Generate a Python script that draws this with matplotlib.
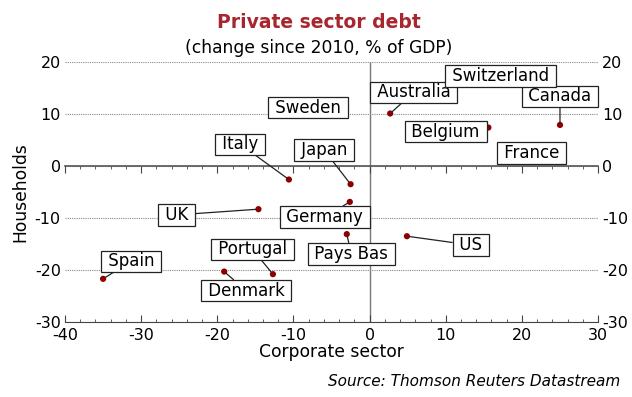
import matplotlib
matplotlib.use("Agg")
import matplotlib.pyplot as plt
from matplotlib.ticker import MultipleLocator

plt.rcParams["font.family"] = ["DejaVu Sans"]
plt.rcParams["axes.unicode_minus"] = False

# change since 2010, % of GDP
countries = ["Spain", "Denmark", "Portugal", "UK", "Italy", "Japan", "Germany",
             "Pays Bas", "US", "Australia", "Belgium", "Canada", "Sweden",
             "Switzerland", "France"]
corporate = [-35.0, -19.1, -12.7, -14.6, -10.6, -2.5, -2.6,
             -3.0, 4.9, 2.7, 15.6, 25.0, -4.5, 16.0, 21.5]
households = [-21.7, -20.3, -20.8, -8.3, -2.6, -3.5, -6.9,
              -13.1, -13.5, 10.1, 7.4, 7.9, 11.0, 17.5, 2.5]
# where each name box sits (data units)
label_x = [-31.3, -16.2, -15.4, -25.3, -17.0, -6.0, -5.9,
           -2.4, 13.3, 5.8, 10.0, 25.0, -8.1, 17.2, 21.3]
label_y = [-18.3, -24.0, -16.0, -9.4, 4.2, 3.1, -9.8,
           -16.9, -15.2, 14.2, 6.6, 13.4, 11.2, 17.3, 2.5]

fig = plt.figure(figsize=(6.32, 3.97), dpi=100)
ax = fig.add_axes([0.1029, 0.1889, 0.8434, 0.6549])

ax.set_xlim(-40, 30)
ax.set_ylim(-30, 20)
ax.xaxis.set_major_locator(MultipleLocator(10))
ax.xaxis.set_minor_locator(MultipleLocator(2))
ax.yaxis.set_major_locator(MultipleLocator(10))

for side in ("left", "right"):
    ax.spines[side].set_visible(False)
ax.spines["bottom"].set_color("#444444")
ax.spines["top"].set_position(("data", 0))
ax.spines["top"].set_color("#555555")
ax.spines["top"].set_linewidth(1.2)

ax.tick_params(axis="x", which="both", direction="in", top=True,
               labeltop=False, colors="#444444", labelcolor="black",
               labelsize=11.5, pad=4)
ax.tick_params(axis="x", which="major", length=5)
ax.tick_params(axis="x", which="minor", length=2.5)
ax.tick_params(axis="y", length=0, labelsize=11.5, labelright=True, pad=3)

ax.grid(axis="y", color="#888888", linestyle=(0, (1, 1)), linewidth=0.8)
ax.axvline(0, color="#777777", linewidth=1.0, zorder=1)

ax.scatter(corporate, households, s=20, color="#8b0000", zorder=3,
           edgecolors="none")

for name, px, py, lx, ly in zip(countries, corporate, households,
                                label_x, label_y):
    ax.annotate(f" {name} ", xy=(px, py), xytext=(lx, ly), ha="center",
                va="center", fontsize=12, zorder=5,
                bbox=dict(boxstyle="square,pad=0.1", fc="white",
                          ec="#222222", lw=0.9),
                arrowprops=dict(arrowstyle="-", color="#222222", lw=0.9,
                                shrinkA=0, shrinkB=2))

ax.set_xlabel("Corporate sector", fontsize=12.3, labelpad=0)
ax.set_ylabel("Households", fontsize=12.3, labelpad=4)

fig.text(0.504, 0.943, "Private sector debt", ha="center", va="center",
         fontsize=13.5, fontweight="bold", color="#a8262e")
fig.text(0.504, 0.880, "(change since 2010, % of GDP)", ha="center",
         va="center", fontsize=12.3)
fig.text(0.981, 0.038, "Source: Thomson Reuters Datastream", ha="right",
         va="center", fontsize=11, style="italic")

fig.savefig("out.png", dpi=100)
